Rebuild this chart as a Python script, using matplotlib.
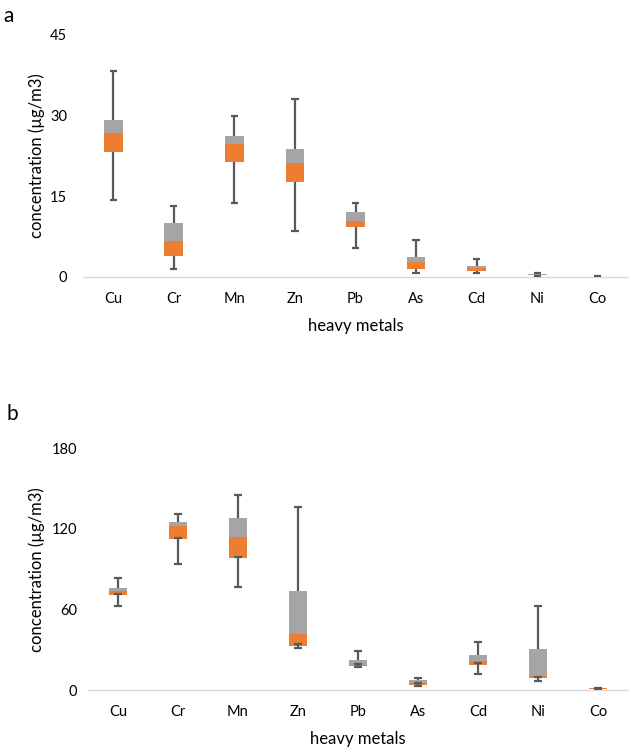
import matplotlib
matplotlib.use('Agg')
import matplotlib.pyplot as plt

plt.rcParams['font.family'] = ['Lato', 'DejaVu Sans']

METALS = ['Cu', 'Cr', 'Mn', 'Zn', 'Pb', 'As', 'Cd', 'Ni', 'Co']

# panel a
a_min = [14.3, 1.4, 13.8, 8.55, 5.45, 0.8, 0.68, 0.22, 0.05]
a_q1 = [23.3, 3.9, 21.3, 17.7, 9.35, 1.55, 1.17, 0.35, 0.10]
a_med = [26.7, 6.75, 24.7, 21.2, 10.5, 2.8, 1.67, 0.45, 0.14]
a_q3 = [29.2, 10.1, 26.3, 23.8, 12.0, 3.65, 2.05, 0.60, 0.18]
a_max = [38.3, 13.2, 30.0, 33.1, 13.7, 6.9, 3.4, 0.74, 0.25]

# panel b
b_min = [62.3, 94.0, 76.9, 31.0, 16.9, 2.8, 12.1, 6.9, 0.8]
b_lowcap = [71.7, 113.4, 99.3, 34.0, 19.4, 5.0, 19.9, 9.9, 1.1]
b_q1 = [70.7, 112.4, 98.3, 33.0, 18.1, 3.5, 18.8, 8.9, 1.0]
b_med = [73.7, 122.4, 113.9, 41.9, 18.9, 5.2, 21.6, 10.4, 1.3]
b_q3 = [76.2, 124.9, 128.3, 73.9, 22.3, 7.2, 25.8, 30.3, 1.6]
b_max = [83.6, 131.0, 145.2, 136.3, 29.0, 9.2, 36.0, 62.8, 1.8]

ORANGE = '#ED7D31'
GRAY = '#A5A5A5'
WHISKER = '#595959'
AXIS = '#D9D9D9'


def draw_panel(ax, lo, q1, med, q3, hi, ymax, ypad, lab_x, lowcap=None):
    x = range(len(METALS))
    w = 0.31
    cap = 0.06
    ax.bar(x, [m - a for m, a in zip(med, q1)], w, bottom=q1, color=ORANGE, zorder=2)
    ax.bar(x, [b - m for b, m in zip(q3, med)], w, bottom=med, color=GRAY, zorder=2)
    top_low = lowcap if lowcap is not None else q1
    for i in x:
        ax.vlines(i, q3[i], hi[i], color=WHISKER, lw=1.6, zorder=3)
        ax.hlines(hi[i], i - cap, i + cap, color=WHISKER, lw=1.6, zorder=3)
        ax.vlines(i, lo[i], top_low[i], color=WHISKER, lw=1.6, zorder=3)
        ax.hlines(lo[i], i - cap, i + cap, color=WHISKER, lw=1.6, zorder=3)
        if lowcap is not None:
            ax.hlines(lowcap[i], i - cap, i + cap, color=WHISKER, lw=1.6, zorder=3)
    ax.set_xlim(-0.5, len(METALS) - 0.5)
    ax.set_ylim(0, ymax)
    ticks = [0, ymax / 3, 2 * ymax / 3, ymax]
    ax.set_yticks(ticks)
    ax.set_yticklabels([str(int(v)) for v in ticks])
    ax.set_xticks(list(x))
    ax.set_xticklabels(METALS)
    for s in ['top', 'right', 'left']:
        ax.spines[s].set_visible(False)
    ax.spines['bottom'].set_color(AXIS)
    ax.spines['bottom'].set_linewidth(1.0)
    ax.tick_params(length=0, labelsize=10.5, colors='#000000')
    ax.tick_params(axis='x', pad=10.5)
    ax.tick_params(axis='y', pad=ypad)
    ax.set_ylabel('concentration (µg/m3)', fontsize=12, va='center')
    ax.yaxis.set_label_coords(lab_x, 0.5)
    ax.set_xlabel('heavy metals', fontsize=12, labelpad=9)


fig = plt.figure(figsize=(6.29, 7.49), dpi=100)
ax_a = fig.add_axes([83 / 629, 1 - 277 / 749, 545 / 629, 242 / 749])
ax_b = fig.add_axes([88 / 629, 1 - 690 / 749, 540 / 629, 241.7 / 749])

draw_panel(ax_a, a_min, a_q1, a_med, a_q3, a_max, 45, 11.5, (37 - 83) / 545)
draw_panel(ax_b, b_min, b_q1, b_med, b_q3, b_max, 180, 8, (37 - 88) / 540,
           lowcap=b_lowcap)

fig.text(3 / 629, 1 - 16 / 749, 'a', fontsize=15, va='center', ha='left')
fig.text(6 / 629, 1 - 414 / 749, 'b', fontsize=15, va='center', ha='left')

fig.savefig('out.png', dpi=100)
